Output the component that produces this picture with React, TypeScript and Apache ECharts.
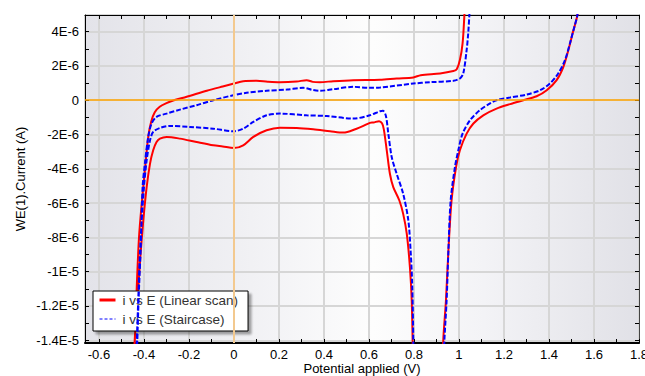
import React, { useEffect, useRef } from 'react';
import * as echarts from 'echarts';

// Potential (V), current (µA)
const linearLoop: [number, number][] = [
  [0.797, -16], [0.794, -14.04], [0.79, -11.7], [0.782, -9.75], [0.768, -7.8],
  [0.752, -6.63], [0.735, -5.85], [0.708, -5.07], [0.693, -4.29], [0.679, -2.92],
  [0.666, -1.7], [0.658, -1.35], [0.645, -1.22], [0.62, -1.3], [0.604, -1.32],
  [0.575, -1.5], [0.545, -1.66], [0.486, -1.89], [0.427, -1.81], [0.352, -1.7],
  [0.279, -1.62], [0.204, -1.6], [0.145, -1.75], [0.086, -2.14], [0.041, -2.63],
  [0.0, -2.79], [-0.05, -2.7], [-0.092, -2.63], [-0.166, -2.44], [-0.24, -2.24],
  [-0.299, -2.14], [-0.329, -2.24], [-0.344, -2.44], [-0.359, -2.92], [-0.373, -3.7],
  [-0.388, -5.07], [-0.403, -7.02], [-0.415, -8.97], [-0.425, -10.9], [-0.436, -12.9],
  [-0.443, -14.5], [-0.446, -16],
  [-0.447, -16], [-0.441, -14.2], [-0.432, -10.9], [-0.422, -8.0], [-0.41, -6.04],
  [-0.396, -4.09], [-0.381, -2.14], [-0.368, -1.25], [-0.352, -0.7], [-0.33, -0.38],
  [-0.3, -0.17], [-0.27, -0.02], [-0.21, 0.2], [-0.121, 0.55], [-0.05, 0.8], [0.0, 0.97],
  [0.041, 1.11], [0.1, 1.13], [0.15, 1.08], [0.204, 1.05], [0.279, 1.09],
  [0.323, 1.17], [0.35, 1.07], [0.382, 1.05], [0.441, 1.11], [0.53, 1.17],
  [0.649, 1.19], [0.723, 1.27], [0.797, 1.33], [0.83, 1.46], [0.916, 1.56],
  [0.975, 1.7], [0.99, 1.8], [1.004, 2.34], [1.016, 3.31], [1.024, 4.95], [1.028, 6],
];

const linearRight: [number, number][] = [
  [0.928, -16], [0.93, -14.04], [0.942, -11.7], [0.953, -8.77], [0.967, -5.85],
  [0.987, -3.9], [1.004, -2.92], [1.034, -1.95], [1.064, -1.36], [1.108, -0.88],
  [1.167, -0.49], [1.227, -0.23], [1.286, 0], [1.345, 0.23], [1.39, 0.58],
  [1.434, 1.17], [1.464, 1.95], [1.486, 2.92], [1.505, 3.9], [1.526, 4.95], [1.535, 6],
];

const staircaseLoop: [number, number][] = [
  [0.798, -16], [0.797, -14.04], [0.792, -10.7], [0.785, -8.77], [0.775, -7.02],
  [0.752, -5.46], [0.723, -4.29], [0.701, -3.31], [0.686, -1.95], [0.675, -0.9],
  [0.662, -0.62], [0.649, -0.64], [0.604, -0.88], [0.53, -1.07], [0.412, -0.92],
  [0.323, -0.88], [0.204, -0.78], [0.145, -0.88], [0.086, -1.27], [0.041, -1.66],
  [0.0, -1.81], [-0.092, -1.66], [-0.196, -1.56], [-0.284, -1.5], [-0.329, -1.62],
  [-0.359, -1.85], [-0.373, -2.34], [-0.388, -3.51], [-0.4, -5.07], [-0.41, -7.02],
  [-0.418, -8.97], [-0.425, -11.5], [-0.432, -14.2], [-0.434, -16],
  [-0.436, -16], [-0.43, -14.2], [-0.422, -11], [-0.414, -8.5], [-0.406, -5.07],
  [-0.396, -3.7], [-0.381, -2.14], [-0.366, -1.36], [-0.344, -0.97], [-0.299, -0.78],
  [-0.24, -0.55], [-0.166, -0.29], [-0.092, 0], [-0.003, 0.29], [0.056, 0.43],
  [0.145, 0.55], [0.234, 0.62], [0.308, 0.72], [0.35, 0.6], [0.382, 0.55],
  [0.441, 0.64], [0.53, 0.78], [0.604, 0.72], [0.649, 0.74], [0.797, 0.97],
  [0.871, 1.05], [0.975, 1.13], [1.004, 1.27], [1.019, 1.56], [1.034, 2.92],
  [1.041, 3.9], [1.046, 4.95], [1.05, 6],
];

const staircaseRight: [number, number][] = [
  [0.93, -16], [0.935, -14.04], [0.945, -11.7], [0.953, -8.77], [0.963, -5.85],
  [0.982, -3.9], [0.997, -2.92], [1.016, -1.95], [1.049, -1.17], [1.093, -0.58],
  [1.138, -0.19], [1.167, 0], [1.227, 0.16], [1.301, 0.33], [1.36, 0.58],
  [1.404, 0.97], [1.441, 1.56], [1.471, 2.34], [1.493, 3.31], [1.513, 4.29],
  [1.526, 4.95], [1.532, 6],
];

const LINEAR = 'i vs E (Linear scan)';
const STAIR = 'i vs E (Staircase)';
const xRange = [-0.662, 1.8];
const yRange = [-1.416e-5, 4.97e-6];
const xTitle = 'Potential applied (V)';
const yTitle = 'WE(1).Current (A)';

const FONT = '"Liberation Sans", Arial, sans-serif';

function sci(v: number): string {
  if (Math.abs(v) < 1e-12) return '0';
  let e = Math.floor(Math.log10(Math.abs(v)) + 1e-9);
  let m = Math.round((v / Math.pow(10, e)) * 100) / 100;
  if (Math.abs(m) >= 10) {
    m = m / 10;
    e += 1;
  }
  return `${m}E${e}`;
}

const toAmps = (pts: [number, number][]) => pts.map(([e, i]) => [e, i * 1e-6]);

export default function App() {
  const ref = useRef<HTMLDivElement>(null);
  useEffect(() => {
    const chart = echarts.init(ref.current!, null, { renderer: 'svg' });
    const bg = new echarts.graphic.LinearGradient(0, 0, 1, 0, [
      { offset: 0, color: '#e3e3e9' },
      { offset: 0.3, color: '#f1f1f4' },
      { offset: 0.52, color: '#fdfdfd' },
      { offset: 0.72, color: '#f3f3f6' },
      { offset: 1, color: '#e1e1e7' },
    ]);
    const tickStyle = { color: '#000', width: 1 };
    const lineBase = {
      type: 'line' as const,
      showSymbol: false,
      symbol: 'none',
      smooth: 0.3,
      clip: true,
      silent: true,
    };
    chart.setOption({
      animation: false,
      grid: {
        left: 85,
        right: 6,
        top: 15,
        bottom: 33,
        show: true,
        backgroundColor: bg,
        borderWidth: 0,
        containLabel: false,
        outerBoundsMode: 'none',
      },
      legend: {
        data: [
          { name: LINEAR, lineStyle: { width: 3, type: 'solid' } },
          { name: STAIR, lineStyle: { width: 1, type: [3, 2] } },
        ],
        orient: 'vertical',
        left: 93,
        top: 291,
        itemWidth: 16,
        itemHeight: 12,
        itemGap: 5,
        padding: [2, 10, 5, 5],
        itemStyle: { opacity: 0 },
        backgroundColor: '#fff',
        borderColor: '#000',
        borderWidth: 1,
        borderRadius: 0,
        shadowColor: 'rgba(0,0,0,0.35)',
        shadowOffsetX: 3,
        shadowOffsetY: 3,
        shadowBlur: 2,
        textStyle: {
          fontFamily: FONT,
          fontSize: 13.5,
          lineHeight: 14,
          color: '#333',
          padding: [0, 0, 0, 2],
        },
      },
      xAxis: [
        {
          type: 'value',
          position: 'bottom',
          min: xRange[0],
          max: xRange[1],
          splitNumber: 12,
          name: xTitle,
          nameLocation: 'middle',
          nameGap: 19,
          nameMoveOverlap: false,
          nameTextStyle: { fontFamily: FONT, fontSize: 13, color: '#000', lineHeight: 13 },
          axisLine: { show: true, onZero: false, lineStyle: { color: '#000', width: 2 } },
          axisTick: { show: true, inside: true, length: 4, lineStyle: tickStyle },
          minorTick: { show: true, splitNumber: 2, length: 4, lineStyle: tickStyle },
          axisLabel: { showMinLabel: false, color: '#000', fontFamily: FONT, fontSize: 13, margin: 5 },
          splitLine: { show: true, lineStyle: { color: '#d6d6d6', width: 2 } },
        },
        {
          type: 'value',
          position: 'top',
          min: xRange[0],
          max: xRange[1],
          splitNumber: 12,
          axisLine: { show: true, onZero: false, lineStyle: { color: '#000', width: 1 } },
          axisTick: { show: true, inside: true, length: 4, lineStyle: tickStyle },
          minorTick: { show: true, splitNumber: 2, length: 4, lineStyle: tickStyle },
          axisLabel: { show: false },
          splitLine: { show: false },
        },
      ],
      yAxis: [
        {
          type: 'value',
          position: 'left',
          min: yRange[0],
          max: yRange[1],
          splitNumber: 10,
          name: yTitle,
          nameLocation: 'middle',
          nameGap: 58,
          nameMoveOverlap: false,
          nameTextStyle: { fontFamily: FONT, fontSize: 13, color: '#000' },
          axisLine: { show: true, onZero: false, lineStyle: { color: '#000', width: 1 } },
          axisTick: { show: true, inside: true, length: 4, lineStyle: tickStyle },
          minorTick: { show: true, splitNumber: 2, length: 4, lineStyle: tickStyle },
          axisLabel: {
            showMinLabel: false,
            showMaxLabel: false,
            color: '#000',
            fontFamily: FONT,
            fontSize: 13,
            margin: 6,
            formatter: (v: number) => sci(v),
          },
          splitLine: { show: true, lineStyle: { color: '#d6d6d6', width: 2 } },
        },
        {
          type: 'value',
          position: 'right',
          min: yRange[0],
          max: yRange[1],
          splitNumber: 10,
          axisLine: { show: true, onZero: false, lineStyle: { color: '#444', width: 1 } },
          axisTick: { show: true, inside: true, length: 4, lineStyle: tickStyle },
          minorTick: { show: true, splitNumber: 2, length: 4, lineStyle: tickStyle },
          axisLabel: { show: false },
          splitLine: { show: false },
        },
      ],
      series: [
        {
          type: 'line',
          name: 'zero',
          data: [],
          z: 1,
          markLine: {
            silent: true,
            symbol: ['none', 'none'],
            label: { show: false },
            data: [
              { xAxis: 0, lineStyle: { color: '#f3c98f', width: 2, type: 'solid' } },
              { yAxis: 0, lineStyle: { color: '#ffa500', width: 1.5, type: 'solid' } },
            ],
          },
        },
        {
          ...lineBase,
          name: LINEAR,
          z: 3,
          data: toAmps(linearLoop),
          lineStyle: { color: '#ff0000', width: 2, type: 'solid' },
          itemStyle: { color: '#ff0000' },
        },
        {
          ...lineBase,
          name: LINEAR,
          z: 3,
          data: toAmps(linearRight),
          lineStyle: { color: '#ff0000', width: 2, type: 'solid' },
          itemStyle: { color: '#ff0000' },
        },
        {
          ...lineBase,
          name: STAIR,
          z: 4,
          data: toAmps(staircaseLoop),
          lineStyle: { color: '#0000ff', width: 2, type: [5, 2] },
          itemStyle: { color: '#0000ff' },
        },
        {
          ...lineBase,
          name: STAIR,
          z: 4,
          data: toAmps(staircaseRight),
          lineStyle: { color: '#0000ff', width: 2, type: [5, 2] },
          itemStyle: { color: '#0000ff' },
        },
      ],
    });
    return () => chart.dispose();
  }, []);
  return <div ref={ref} style={{ position: 'absolute', left: 0, top: 0, width: 645, height: 376 }} />;
}
